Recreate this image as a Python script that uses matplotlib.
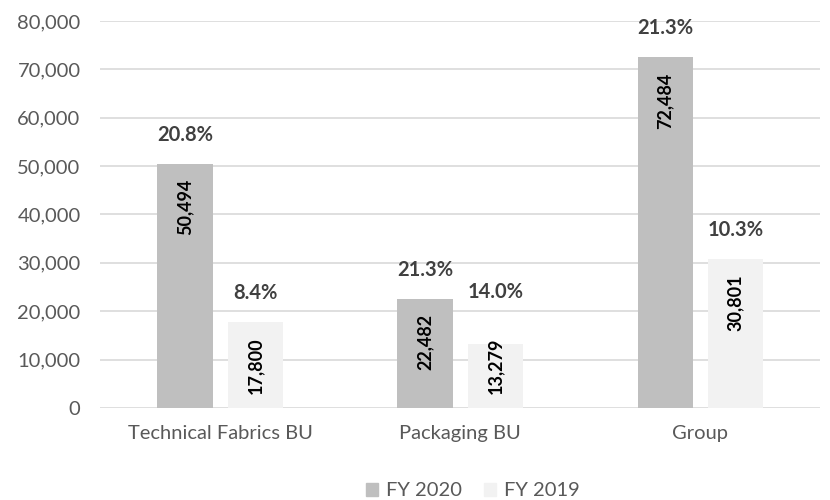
import matplotlib
matplotlib.use("Agg")
import matplotlib.pyplot as plt
import numpy as np
from matplotlib.patches import Patch

categories = ["Technical Fabrics BU", "Packaging BU", "Group"]
fy2020 = [50494, 22482, 72484]
fy2019 = [17800, 13279, 30801]
pct2020 = ["20.8%", "21.3%", "21.3%"]
pct2019 = ["8.4%", "14.0%", "10.3%"]
series_names = ["FY 2020", "FY 2019"]

plt.rcParams["font.family"] = ["Lato", "DejaVu Sans"]

c20 = "#bfbfbf"
c19 = "#f2f2f2"
tick_col = "#595959"
fs = 14.5

fig = plt.figure(figsize=(8.3, 5), dpi=100)
ax = fig.add_axes([0.1205, 0.184, 0.868, 0.774])

x = np.arange(len(categories))
w = 0.23
gap = 0.0625
pos20 = x - (w + gap) / 2
pos19 = x + (w + gap) / 2

ax.bar(pos20, fy2020, w, color=c20, zorder=2)
ax.bar(pos19, fy2019, w, color=c19, zorder=2)

ax.set_xlim(-0.5, len(categories) - 0.5)
ax.set_ylim(0, 80000)
ax.set_yticks(np.arange(0, 80001, 10000))
ax.yaxis.set_major_formatter(matplotlib.ticker.FuncFormatter(lambda v, p: f"{int(v):,}"))
ax.set_xticks(x)
ax.set_xticklabels(categories)
ax.tick_params(axis="both", length=0, colors=tick_col, labelsize=fs)
ax.tick_params(axis="y", pad=14)
ax.tick_params(axis="x", pad=12)
ax.grid(axis="y", color="#d9d9d9", lw=1.2, zorder=0)
for s in ax.spines.values():
    s.set_visible(False)

# pixels per data unit
px_per_unit = (0.774 * 500) / 80000
label_len = 68  # approx rotated label length in px
pt = 72 / 100


def label_bars(positions, values, pcts):
    for xp, v, p in zip(positions, values, pcts):
        h = v * px_per_unit
        if h >= label_len + 30:
            ax.annotate(f"{v:,}", (xp, v), xytext=(0, -15 * pt), textcoords="offset points",
                        rotation=90, ha="center", va="top", fontsize=13,
                        fontweight="bold", color="black", zorder=3)
            top_px = 0
        else:
            ax.annotate(f"{v:,}", (xp, 0), xytext=(0, 14 * pt), textcoords="offset points",
                        rotation=90, ha="center", va="bottom", fontsize=13,
                        fontweight="bold", color="black", zorder=3)
            top_px = max(0, (14 + label_len) - h)
        ax.annotate(p, (xp, v), xytext=(0, (29 + top_px + 5 * (top_px > 0)) * pt),
                    textcoords="offset points", ha="center", va="center",
                    fontsize=14.5, fontweight="bold", color="#404040", zorder=3)


label_bars(pos20, fy2020, pct2020)
label_bars(pos19, fy2019, pct2019)

handles = [Patch(color=c20), Patch(color=c19)]
fig.legend(handles, series_names, loc="lower center", bbox_to_anchor=(0.57, -0.035),
           ncol=2, frameon=False, fontsize=fs, labelcolor=tick_col,
           handlelength=0.6, handleheight=0.6, handletextpad=0.4, columnspacing=1.1)

fig.savefig("out.png", dpi=100)
